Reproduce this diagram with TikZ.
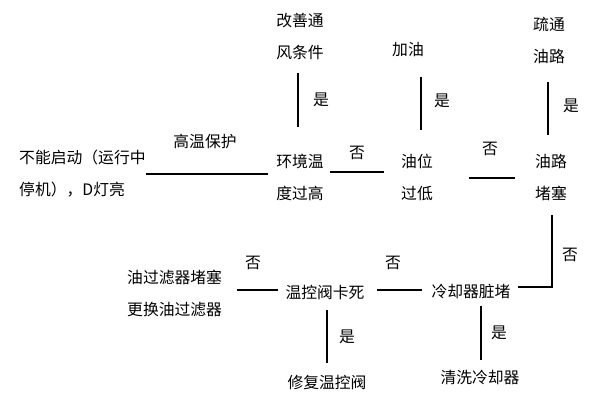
\documentclass[tikz,border=0pt]{standalone}
\usepackage{fontspec}
\newfontfamily\cjk{Noto Sans CJK SC}
\begin{document}
\begin{tikzpicture}[x=1pt,y=-1pt,
  txt/.style={font=\cjk\fontsize{15.8}{32}\selectfont, inner sep=0pt, align=center},
  lbl/.style={font=\cjk\fontsize{15.8}{18}\selectfont, inner sep=0pt},
  ln/.style={line width=1.1pt, black}]
\useasboundingbox (0,0) rectangle (594,401);
% nodes
\node[txt, anchor=west, align=left] (start) at (19,174) {不能启动（运行中\\停机），D灯亮};
\node[txt] (env) at (300,177) {环境温\\度过高};
\node[txt] (vent) at (300,36) {改善通\\风条件};
\node[txt] (lvl) at (417,177) {油位\\过低};
\node[txt] (add) at (408,50) {加油};
\node[txt] (blk) at (551,177) {油路\\堵塞};
\node[txt] (clr) at (549,40) {疏通\\油路};
\node[txt, anchor=west, align=left] (filt) at (127,293) {油过滤器堵塞\\更换油过滤器};
\node[txt] (valve) at (325,292) {温控阀卡死};
\node[txt] (cool) at (471,292) {冷却器脏堵};
\node[txt] (rep) at (327,382) {修复温控阀};
\node[txt] (cln) at (480,377) {清洗冷却器};
% labels
\node[lbl] (lhot) at (205,141) {高温保护};
\node[lbl] (ly1) at (321,100) {是};
\node[lbl] (ln1) at (357,153) {否};
\node[lbl] (ly2) at (442,101) {是};
\node[lbl] (ln2) at (490,149) {否};
\node[lbl] (ly3) at (571,106) {是};
\node[lbl] (ln3) at (570,255) {否};
\node[lbl] (ln4) at (393,263) {否};
\node[lbl] (ln5) at (253,263) {否};
\node[lbl] (ly4) at (347,337) {是};
\node[lbl] (ly5) at (499,333) {是};
% connector end points
\coordinate (a1) at (146,174); \coordinate (a2) at (268,174);
\coordinate (b1) at (298,73);  \coordinate (b2) at (298,127);
\coordinate (c1) at (330,172); \coordinate (c2) at (384,172);
\coordinate (d1) at (421,77);  \coordinate (d2) at (421,130);
\coordinate (e1) at (469,178); \coordinate (e2) at (515,178);
\coordinate (f1) at (548,82);  \coordinate (f2) at (548,135);
\coordinate (g1) at (552,215); \coordinate (g2) at (552,287); \coordinate (g3) at (518,287);
\coordinate (h1) at (422,290); \coordinate (h2) at (377,290);
\coordinate (i1) at (278,290); \coordinate (i2) at (237,290);
\coordinate (j1) at (327,310); \coordinate (j2) at (327,363);
\coordinate (k1) at (481,306); \coordinate (k2) at (481,360);
% connectors
\draw[ln] (a1) -- (a2);
\draw[ln] (b1) -- (b2);
\draw[ln] (c1) -- (c2);
\draw[ln] (d1) -- (d2);
\draw[ln] (e1) -- (e2);
\draw[ln] (f1) -- (f2);
\draw[ln] (g1) -- (g2) -- (g3);
\draw[ln] (h1) -- (h2);
\draw[ln] (i1) -- (i2);
\draw[ln] (j1) -- (j2);
\draw[ln] (k1) -- (k2);
\end{tikzpicture}
\end{document}
